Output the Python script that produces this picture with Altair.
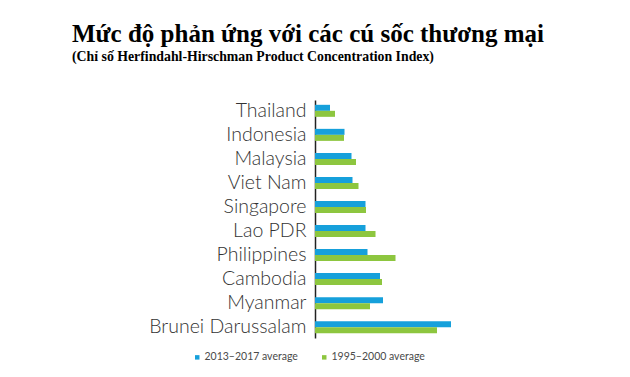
import altair as alt
import pandas as pd

countries = ["Thailand", "Indonesia", "Malaysia", "Viet Nam", "Singapore",
             "Lao PDR", "Philippines", "Cambodia", "Myanmar", "Brunei Darussalam"]
series = ["2013–2017 average", "1995–2000 average"]
recent = [15, 29.5, 36.5, 37.5, 50.5, 50.5, 52.5, 65, 68, 136]
early = [20, 29, 41, 43.5, 51, 60.5, 80.5, 67, 55, 122]

rows = []
for c, a, b in zip(countries, recent, early):
    rows.append({"country": c, "series": series[0], "value": a})
    rows.append({"country": c, "series": series[1], "value": b})
df = pd.DataFrame(rows)

chart = alt.Chart(df).mark_bar(cornerRadius=0).encode(
    y=alt.Y("country:N", sort=countries,
            scale=alt.Scale(paddingInner=0.5, paddingOuter=0.2),
            axis=alt.Axis(title=None, ticks=False, labelFontSize=19.5,
                          labelFont="Lato", labelFontWeight=300,
                          labelColor="#333333", grid=False,
                          labelPadding=9, domainColor="#222222",
                          domainWidth=1.5)),
    yOffset=alt.YOffset("series:N", sort=series),
    x=alt.X("value:Q", scale=alt.Scale(domain=[0, 300]), axis=None),
    color=alt.Color("series:N", sort=series,
                    scale=alt.Scale(domain=series, range=["#16a0db", "#8dc63f"]),
                    legend=alt.Legend(title=None, orient="none", direction="horizontal",
                                      legendX=-123, legendY=252,
                                      symbolType="square", symbolSize=20,
                                      symbolStrokeWidth=0,
                                      labelFont="Lato", labelFontSize=10.5,
                                      labelColor="#4a4a4a", columnPadding=21,
                                      labelOffset=2)),
).properties(
    width=300, height=238,
    title=alt.Title(
        text="Mức độ phản ứng với các cú sốc thương mại",
        subtitle="(Chỉ số Herfindahl-Hirschman Product Concentration Index)",
        anchor="start", frame="group", dx=-243, offset=36,
        font="Liberation Serif", fontSize=25, fontWeight="bold", color="#000000",
        subtitleFont="Liberation Serif", subtitleFontSize=13.8,
        subtitleFontWeight="bold", subtitleColor="#000000", subtitlePadding=3,
    ),
    autosize=alt.AutoSizeParams(type="none"),
    padding={"left": 315, "top": 100, "right": 15, "bottom": 39},
).configure(background="white").configure_view(stroke=None, strokeWidth=0)

chart.save("out.html", embed_options={"renderer": "svg", "actions": False})
